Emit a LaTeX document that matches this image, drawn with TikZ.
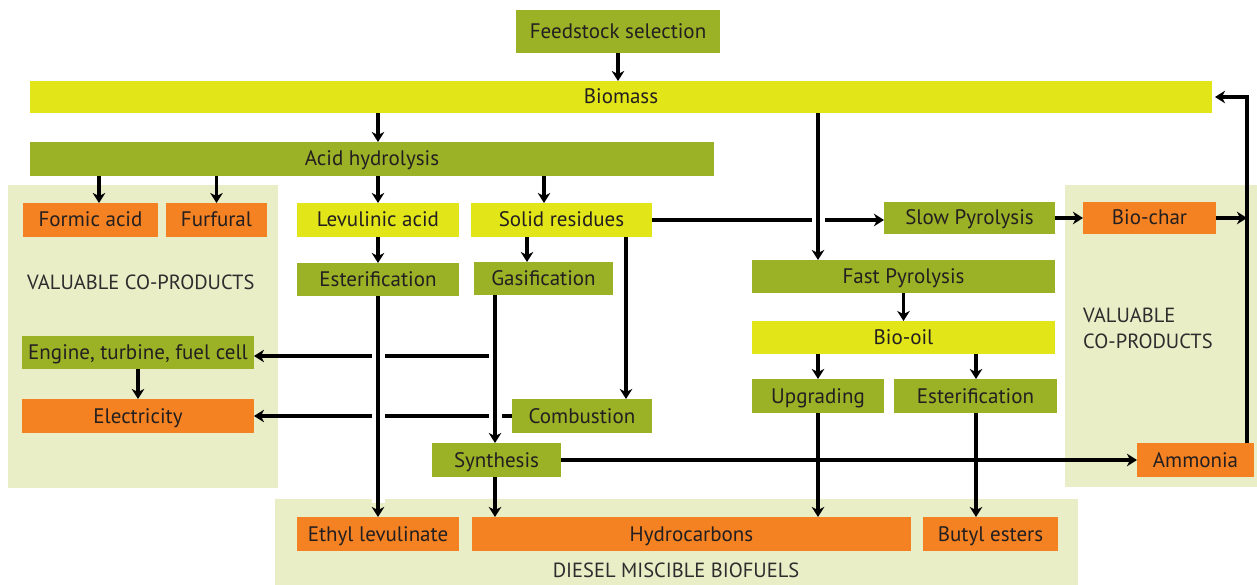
\documentclass[tikz,border=0pt]{standalone}
\usepackage{fontspec}
\setmainfont{PT Sans}
\usetikzlibrary{arrows.meta,calc}
\definecolor{cgreen}{RGB}{155,177,38}
\definecolor{cyellow}{RGB}{226,229,24}
\definecolor{corange}{RGB}{244,130,34}
\definecolor{cpanel}{RGB}{233,238,198}
\definecolor{ctext}{RGB}{35,31,32}
\definecolor{cpaneltext}{RGB}{45,45,45}
\newcommand{\bx}[7]{\node[#6, minimum width={(#4-#2)*1pt}, minimum height={(#5-#3)*1pt}] (#1) at ({(#2+#4)/2},{(#3+#5)/2}) {#7};}
\begin{document}
\begin{tikzpicture}[x=1pt,y=-1pt,
  box/.style={rectangle, inner sep=0pt, outer sep=0pt, text=ctext, text height=14pt, text depth=0pt, font=\fontsize{21}{24}\selectfont},
  gbox/.style={box, fill=cgreen},
  ybox/.style={box, fill=cyellow},
  obox/.style={box, fill=corange},
  panel/.style={fill=cpanel},
  ptext/.style={text=cpaneltext, font=\fontsize{20.5}{26}\selectfont, inner sep=0pt},
  arr/.style={line width=3.8pt, -{Stealth[length=10pt,width=12.5pt,inset=3pt]}},
  halo/.style={draw=white, line width=13pt, shorten <=4pt, shorten >=14pt}
]
\useasboundingbox (0,0) rectangle (1257,585);
\fill[white] (0,0) rectangle (1257,585);
% panels
\fill[panel] (8,185) rectangle (278,488);
\fill[panel] (1065,185) rectangle (1257,487);
\fill[panel] (275,499) rectangle (1078,585);
\node[ptext, anchor=west, text height=14pt, text depth=0pt] (lpt) at (27,282) {VALUABLE CO-PRODUCTS};
\node[ptext, anchor=west, align=left] (rpt) at (1083,328) {VALUABLE\\CO-PRODUCTS};
\node[ptext, text height=14pt, text depth=0pt] (bpt) at (676,570) {DIESEL MISCIBLE BIOFUELS};
% nodes
\bx{fs}{516}{10}{720}{53}{gbox}{Feedstock selection}
\bx{bio}{30}{81}{1212}{113}{ybox}{Biomass}
\bx{acid}{30}{142}{714}{176}{gbox}{Acid hydrolysis}
\bx{formic}{23}{203}{158}{237}{obox}{Formic acid}
\bx{furf}{166}{203}{267}{237}{obox}{Furfural}
\bx{lev}{297}{203}{459}{237}{ybox}{Levulinic acid}
\bx{solid}{471}{203}{652}{237}{ybox}{Solid residues}
\bx{slow}{884}{202}{1055}{234}{gbox}{Slow Pyrolysis}
\bx{char}{1083}{202}{1216}{234}{obox}{Bio-char}
\bx{est1}{297}{263}{459}{296}{gbox}{Esterification}
\bx{gas}{474}{262}{613}{295}{gbox}{Gasification}
\bx{fast}{752}{260}{1055}{293}{gbox}{Fast Pyrolysis}
\bx{oil}{752}{321}{1055}{354}{ybox}{Bio-oil}
\bx{eng}{22}{336}{254}{369}{gbox}{Engine, turbine, fuel cell}
\bx{upg}{752}{379}{884}{413}{gbox}{Upgrading}
\bx{est2}{894}{379}{1057}{413}{gbox}{Esterification}
\bx{elec}{22}{399}{254}{433}{obox}{Electricity}
\bx{comb}{512}{399}{652}{433}{gbox}{Combustion}
\bx{syn}{432}{443}{561}{477}{gbox}{Synthesis}
\bx{amm}{1137}{443}{1254}{477}{obox}{Ammonia}
\bx{ethyl}{297}{517}{459}{551}{obox}{Ethyl levulinate}
\bx{hyd}{472}{517}{911}{551}{obox}{Hydrocarbons}
\bx{butyl}{923}{517}{1058}{551}{obox}{Butyl esters}
% helper coordinates
\coordinate (x99) at (99,0);
\coordinate (x378) at (378,0);
\coordinate (x544) at (544,0);
\coordinate (x527) at (527,0);
\coordinate (x626) at (626,0);
\coordinate (gx) at (495,0);
\coordinate (x818) at (818,0);
\coordinate (x976) at (976,0);
\coordinate (rx) at (1247,0);
\coordinate (ej) at (495,356);
% horizontal connectors (drawn first)
\draw[arr] (ej) -- (ej -| eng.east);
\draw[arr] (comb.west) -- (comb.west -| elec.east);
\draw[arr] (solid.east) -- (solid.east -| slow.west);
\draw[arr] (syn.east) -- (amm.west);
\draw[arr] (slow.east) -- (char.west);
\draw[arr] (char.east) -- (char.east -| rx);
\draw[arr, shorten >=3pt] (amm.north -| rx) |- (bio.east);
% halos for bridges
\draw[halo] (est1.south -| x378) -- (ethyl.north -| x378);
\draw[halo] (gas.south -| gx) -- (syn.north -| gx);
\draw[halo] (bio.south -| x818) -- (fast.north -| x818);
% vertical connectors
\draw[arr] (fs.south) -- (fs.south |- bio.north);
\draw[arr] (bio.south -| x378) -- (acid.north -| x378);
\draw[arr] (acid.south -| x99) -- (formic.north -| x99);
\draw[arr] (acid.south -| furf.north) -- (furf.north);
\draw[arr] (acid.south -| x378) -- (lev.north -| x378);
\draw[arr] (acid.south -| x544) -- (solid.north -| x544);
\draw[arr] (lev.south -| x378) -- (est1.north -| x378);
\draw[arr] (solid.south -| x527) -- (gas.north -| x527);
\draw[arr] (solid.south -| x626) -- (comb.north -| x626);
\draw[arr] (bio.south -| x818) -- (fast.north -| x818);
\draw[arr] (fast.south -| oil.north) -- (oil.north);
\draw[arr] (oil.south -| x818) -- (upg.north -| x818);
\draw[arr] (oil.south -| x976) -- (est2.north -| x976);
\draw[arr] (gas.south -| gx) -- (syn.north -| gx);
\draw[arr] (eng.south) -- (elec.north);
\draw[arr] (est1.south -| x378) -- (ethyl.north -| x378);
\draw[arr] (syn.south -| gx) -- (hyd.north -| gx);
\draw[arr] (upg.south -| x818) -- (hyd.north -| x818);
\draw[arr] (est2.south -| x976) -- (butyl.north -| x976);
\end{tikzpicture}
\end{document}
